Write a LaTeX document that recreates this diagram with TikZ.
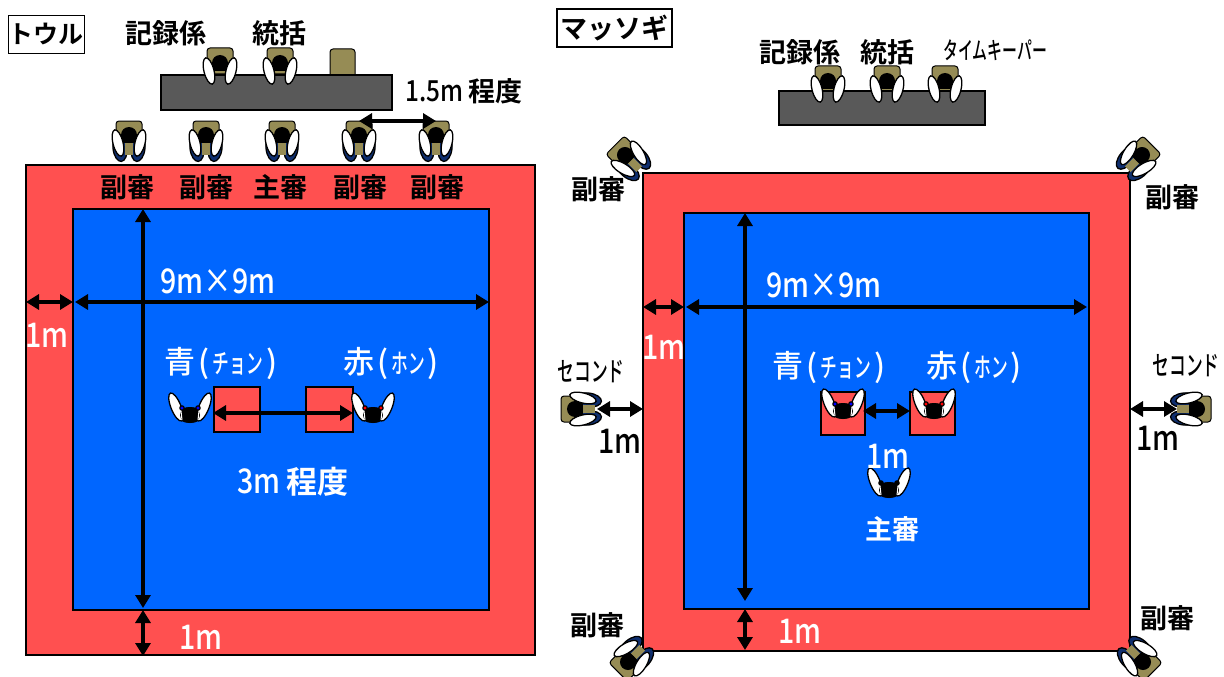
\documentclass[tikz,border=0pt]{standalone}
\usepackage{fontspec}
\usetikzlibrary{arrows.meta}
\setmainfont{Noto Sans CJK JP}
\newfontfamily\jpb{Noto Sans CJK JP Bold}
\newfontfamily\jpm{Noto Sans CJK JP Medium}
\newfontfamily\narrow{Noto Sans CJK JP Medium}[FakeStretch=0.84]
\newfontfamily\kana{Noto Sans CJK JP Medium}[FakeStretch=0.62]
\definecolor{matred}{HTML}{FF5050}
\definecolor{matblue}{HTML}{0066FF}
\definecolor{chairc}{HTML}{968C55}
\definecolor{deskc}{HTML}{595959}
\definecolor{legc}{HTML}{0F2F6F}
\newcommand{\bigf}{\narrow\fontsize{34}{34}\selectfont}
\newcommand{\cjkf}{\jpm\fontsize{31}{31}\selectfont}
\newcommand{\kanaf}{\kana\fontsize{27}{27}\selectfont}
\newcommand{\fname}[2]{{\cjkf #1}\hspace{3pt}{\cjkf(}\hspace{3pt}{\kanaf #2}\hspace{3pt}{\cjkf)}}
% limb: fill colour, centre, tilt, half width, half length
\newcommand{\limb}[6]{\draw[fill=#1,draw=black,line width=1.3pt,shift={(#2,#3)},rotate=#4] (0,0) ellipse (#5 and #6);}
\tikzset{
  mat/.style={draw=black,line width=1.5pt,fill=matred},
  inner/.style={draw=black,line width=1.5pt,fill=matblue},
  deskbox/.style={draw=black,line width=1.5pt,fill=deskc},
  dbl/.style={line width=3.2pt,{Triangle[length=13pt,width=15pt]}-{Triangle[length=13pt,width=15pt]}},
  titlebox/.style={draw=black,line width=1.5pt,fill=white,font=\jpb\fontsize{27}{27}\selectfont,inner sep=0pt,text=black,minimum height=38pt},
  wtxt/.style={text=white,font=\bigf,inner sep=0pt},
  wlab/.style={text=white,font=\jpb\fontsize{27}{27}\selectfont,inner sep=0pt},
  blab/.style={text=black,font=\jpb\fontsize{27}{27}\selectfont,inner sep=0pt},
  btxt/.style={text=black,font=\bigf,inner sep=0pt},
  ktxt/.style={text=black,font=\kanaf,inner sep=0pt},
  pics/arms/.style={code={
    \limb{white}{-11}{8}{14}{5}{13.5}
    \limb{white}{11}{8}{-14}{5}{13.5}
    \fill[black] (0,0) circle (8);
    \fill[black] (-6,2) rectangle (6,8);
  }},
  pics/deskperson/.style={code={
    \draw[fill=chairc,draw=black,line width=1pt,rounded corners=3pt] (-13,-15) rectangle (13,11);
  }},
  pics/seated/.style={code={
    \draw[fill=chairc,draw=black,line width=1pt,rounded corners=3pt] (-13,-14) rectangle (13,2);
    \limb{legc}{-9}{13}{6}{7}{13.5}
    \limb{legc}{9}{13}{-6}{7}{13.5}
    \fill[chairc] (-4,4) rectangle (4,20);
    \pic[transform shape] {arms};
  }},
  pics/fighter/.style={code={
    \fill[black] (0,1) ellipse (13 and 8);
    \limb{white}{-14}{-7}{22}{5}{15}
    \limb{white}{14}{-7}{-22}{5}{15}
    \fill[black] (0,1) ellipse (10 and 8);
    \draw[white,line width=1pt] (-9,-3) -- (-8,6) (9,-3) -- (8,6);
    \fill[black] (-8,-6) circle (2.8) (8,-6) circle (2.8);
    \fill[#1] (-8,-6) circle (1.6) (8,-6) circle (1.6);
  }},
  pics/fighter/.default=black
}
\begin{document}
\begin{tikzpicture}[x=1pt,y=-1pt]
\clip (0,0) rectangle (1224,677);
\fill[white] (0,0) rectangle (1224,677);

% --- left: Tul
\node[titlebox,font=\jpb\fontsize{25}{25}\selectfont,minimum width=76pt] (tultitle) at (46.5,34.5) {トウル};
\draw[mat] (26,165) rectangle (535,655);
\draw[inner] (73,209) rectangle (489,610);
\draw[mat] (214,387) rectangle (260,432);
\draw[mat] (306,387) rectangle (353,432);
\draw[fill=chairc,draw=black,line width=1pt,rounded corners=3pt] (330,49) rectangle (355,80);
\pic (d1) at (220,63) {deskperson};
\pic (d2) at (280,63) {deskperson};
\draw[deskbox] (161,75) rectangle (392,110);
\pic at (220,63) {arms};
\pic at (280,63) {arms};
\foreach \n/\x in {a/129,b/206,c/282,d/359,e/436}{\pic (s\n) at (\x,135) {seated};}
\pic (fl1) at (190,414) {fighter=blue};
\pic (fl2) at (373,414) {fighter=red};

\node[blab] (t1) at (166,33) {記録係};
\node[blab] (t2) at (279,33) {統括};
\node[btxt,font=\narrow\fontsize{29}{29}\selectfont] (t3) at (464,91) {1.5m {\jpb\fontsize{27}{27}\selectfont 程度}};
\foreach \n/\x/\t in {a/127/副審,b/206/副審,c/280/主審,d/360/副審,e/437/副審}{\node[blab] (r\n) at (\x,187) {\t};}
\node[wtxt] (l9) at (218,281) {9m×9m};
\node[wtxt] (l1a) at (47,335) {1m};
\node[wtxt] (l1b) at (201,637) {1m};
\node[wtxt] (lc) at (221,363) {\fname{青}{チョン}};
\node[wtxt] (lh) at (391,364) {\fname{赤}{ホン}};
\node[wtxt] (l3) at (293,482) {3m {\jpb\fontsize{31}{31}\selectfont 程度}};

\coordinate (A1) at (359,121); \coordinate (A2) at (436,121);
\coordinate (B1) at (143,209); \coordinate (B2) at (143,608);
\coordinate (C1) at (143,610); \coordinate (C2) at (143,656);
\coordinate (D1) at (26,302);  \coordinate (D2) at (73,302);
\coordinate (E1) at (75,302);  \coordinate (E2) at (489,302);
\coordinate (F1) at (213,413); \coordinate (F2) at (353,413);
\foreach \p/\q in {A1/A2,B1/B2,C1/C2,D1/D2,E1/E2,F1/F2}{\draw[dbl] (\p) -- (\q);}

% --- right: Massogi
\node[titlebox,minimum width=115pt] (mastitle) at (614.5,28) {マッソギ};
\draw[mat] (643,173) rectangle (1130,651);
\draw[inner] (684,213) rectangle (1089,609);
\draw[mat] (821,392) rectangle (865,435);
\draw[mat] (910,392) rectangle (955,435);
\foreach \n/\x in {a/828,b/887,c/945}{\pic (p\n) at (\x,81) {deskperson};}
\draw[deskbox] (779,91) rectangle (985,125);
\foreach \x in {828,887,945}{\pic at (\x,81) {arms};}

\pic[rotate=45] (c1) at (625,155) {seated};
\pic[rotate=-45] (c2) at (1142,155) {seated};
\pic[rotate=135] (c3) at (628,662) {seated};
\pic[rotate=-135] (c4) at (1143,662) {seated};
\pic[rotate=90] (s1) at (575,409) {seated};
\pic[rotate=-90] (s2) at (1197,409) {seated};
\pic (f1) at (843,410) {fighter=blue};
\pic (f2) at (934,410) {fighter=red};
\pic (f3) at (889,489) {fighter=black};

\node[blab] (m1) at (800,52) {記録係};
\node[blab] (m2) at (887,52) {統括};
\node[ktxt,font=\kana\fontsize{24}{24}\selectfont] (m3) at (995,50) {タイムキーパー};
\node[blab] (m4) at (598,189) {副審};
\node[blab] (m5) at (1172,197) {副審};
\node[blab] (m6) at (597,625) {副審};
\node[blab] (m7) at (1167,618) {副審};
\node[ktxt] (m8) at (591,372) {セコンド};
\node[ktxt] (m9) at (1186,366) {セコンド};
\node[btxt] (m10) at (620,441) {1m};
\node[btxt] (m11) at (1158,438) {1m};
\node[wtxt] (m12) at (824,285) {9m×9m};
\node[wtxt] (m13) at (664,347) {1m};
\node[wtxt] (m14) at (800,631) {1m};
\node[wtxt] (m15) at (829,367) {\fname{青}{チョン}};
\node[wtxt] (m16) at (974,368) {\fname{赤}{ホン}};
\node[wtxt] (m17) at (888,456) {1m};
\node[wlab] (m18) at (892,529) {主審};

\coordinate (G1) at (745,213); \coordinate (G2) at (745,601);
\coordinate (H1) at (745,609); \coordinate (H2) at (745,650);
\coordinate (I1) at (643,307); \coordinate (I2) at (684,307);
\coordinate (J1) at (686,307); \coordinate (J2) at (1087,307);
\coordinate (K1) at (863,411); \coordinate (K2) at (910,411);
\coordinate (L1) at (597,409); \coordinate (L2) at (643,409);
\coordinate (M1) at (1130,409); \coordinate (M2) at (1177,409);
\foreach \p/\q in {G1/G2,H1/H2,I1/I2,J1/J2,K1/K2,L1/L2,M1/M2}{\draw[dbl] (\p) -- (\q);}
\end{tikzpicture}
\end{document}
